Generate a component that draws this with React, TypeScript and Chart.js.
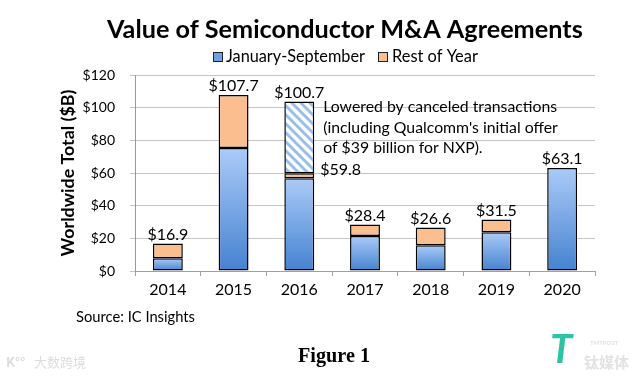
import React, { useEffect, useRef } from "react";
import { Chart, registerables } from "chart.js";
Chart.register(...registerables);

const years = ["2014", "2015", "2016", "2017", "2018", "2019", "2020"];
const janSep = [7.8, 75.3, 56.8, 21.4, 15.7, 23.8, 63.1];
const restOfYear = [9.1, 32.4, 3.0, 7.0, 10.9, 7.7, null];
const canceled = [null, null, 44.0, null, null, null, null];
const totalLabels = ["$16.9", "$107.7", "$100.7", "$28.4", "$26.6", "$31.5", "$63.1"];
const partialIndex = 2;
const partialLabel = "$59.8";
const yMin = 0;
const yMax = 120;
const yStep = 20;
const titleText = "Value of Semiconductor M&A Agreements";
const legendLabels = ["January-September", "Rest of Year"];
const yTitleText = "Worldwide Total ($B)";
const annotationLines = [
  "Lowered by canceled transactions",
  "(including Qualcomm's initial offer",
  "of $39 billion for NXP).",
];
const sourceText = "Source: IC Insights";
const figureText = "Figure 1";

const FONT = "Lato, 'Open Sans', sans-serif";
const ORANGE = "#fbbf8f";

function fitFont(ctx: CanvasRenderingContext2D, text: string, weight: string, family: string, width: number) {
  ctx.font = `${weight} 20px ${family}`;
  const w = ctx.measureText(text).width;
  const size = (20 * width) / w;
  ctx.font = `${weight} ${size}px ${family}`;
  return size;
}

function makeHatch(): CanvasPattern | string {
  const s = 9;
  const c = document.createElement("canvas");
  c.width = s;
  c.height = s;
  const g = c.getContext("2d");
  if (!g) return "#ffffff";
  g.fillStyle = "#ffffff";
  g.fillRect(0, 0, s, s);
  g.strokeStyle = "#98bfea";
  g.lineWidth = 3;
  for (let k = -1; k <= 1; k++) {
    g.beginPath();
    g.moveTo(-1, -1 + k * s);
    g.lineTo(s + 1, s + 1 + k * s);
    g.stroke();
  }
  const p = g.createPattern(c, "repeat");
  return p || "#ffffff";
}

const textPlugin = {
  id: "texts",
  afterDraw(chart: any) {
    const ctx: CanvasRenderingContext2D = chart.ctx;
    const y = chart.scales.y;
    ctx.save();
    ctx.fillStyle = "#000";

    // Title
    ctx.textAlign = "left";
    ctx.textBaseline = "alphabetic";
    fitFont(ctx, titleText, "bold", FONT, 476);
    ctx.fillText(titleText, 107, 38);

    // Legend
    ctx.textBaseline = "middle";
    const boxes = [
      { x: 213, tx: 226, w: 139, fill: "#6fa2e4" },
      { x: 378, tx: 392, w: 86, fill: ORANGE },
    ];
    boxes.forEach((b, i) => {
      ctx.fillStyle = b.fill;
      ctx.fillRect(b.x, 52, 10, 10);
      ctx.strokeStyle = "#222";
      ctx.lineWidth = 1;
      ctx.strokeRect(b.x + 0.5, 52.5, 9, 9);
      ctx.fillStyle = "#000";
      fitFont(ctx, legendLabels[i], "normal", FONT, b.w);
      ctx.fillText(legendLabels[i], b.tx, 57);
    });

    // Y title
    ctx.save();
    ctx.translate(68, 173);
    ctx.rotate(-Math.PI / 2);
    ctx.textAlign = "center";
    fitFont(ctx, yTitleText, "bold", FONT, 167);
    ctx.fillText(yTitleText, 0, 0);
    ctx.restore();

    // Data labels
    const meta0 = chart.getDatasetMeta(0);
    ctx.textAlign = "center";
    ctx.font = `normal 16px ${FONT}`;
    years.forEach((_, i) => {
      const top = (janSep[i] || 0) + (restOfYear[i] || 0) + (canceled[i] || 0);
      const el = meta0.data[i];
      ctx.fillText(totalLabels[i], el.x, y.getPixelForValue(top) - 9);
    });

    // Partial label for canceled year
    const pel = meta0.data[partialIndex];
    const partialTop = (janSep[partialIndex] || 0) + (restOfYear[partialIndex] || 0);
    ctx.textAlign = "left";
    ctx.fillText(partialLabel, pel.x + pel.width / 2 + 6, y.getPixelForValue(partialTop) - 3);

    // Annotation
    const size = fitFont(ctx, annotationLines[0], "normal", FONT, 234);
    ctx.font = `normal ${size}px ${FONT}`;
    const ax = pel.x + pel.width / 2 + 9;
    annotationLines.forEach((line, i) => {
      ctx.fillText(line, ax, 107 + i * 20.5);
    });

    // Source
    fitFont(ctx, sourceText, "normal", FONT, 119);
    ctx.fillText(sourceText, 76, 317);

    // Figure caption
    ctx.textAlign = "center";
    fitFont(ctx, figureText, "bold", "'Liberation Serif', 'DejaVu Serif', serif", 72);
    ctx.fillText(figureText, 334, 357);

    // Watermarks
    ctx.textAlign = "left";
    ctx.fillStyle = "#dcdcdc";
    ctx.font = `normal 13px 'Noto Sans CJK SC'`;
    ctx.fillText("大数跨境", 34, 362);
    ctx.font = `bold 13px 'Noto Sans CJK SC'`;
    ctx.fillText("K°°", 6, 362);
    ctx.fillStyle = "#e2e2e2";
    ctx.font = `bold 15px 'Noto Sans CJK SC'`;
    ctx.fillText("钛媒体", 584, 362);
    ctx.font = `bold 6px ${FONT}`;
    ctx.fillText("TMTPOST", 590, 343);
    ctx.fillStyle = "#2fc3a6";
    ctx.font = `italic bold 40px ${FONT}`;
    ctx.fillText("T", 550, 350);

    ctx.restore();
  },
};

export default function App() {
  const ref = useRef<HTMLCanvasElement>(null);
  useEffect(() => {
    document.body.style.margin = "0";
    const canvas = ref.current;
    if (!canvas) return;
    const hatch = makeHatch();
    const blueGradient = (c: any) => {
      const chart = c.chart;
      if (!chart.chartArea || c.raw == null) return "#6fa2e4";
      const ys = chart.scales.y;
      const top = ys.getPixelForValue(c.raw);
      const bottom = ys.getPixelForValue(0);
      const g = chart.ctx.createLinearGradient(0, top, 0, bottom);
      g.addColorStop(0, "#abcbf8");
      g.addColorStop(1, "#4582d0");
      return g;
    };
    const common = {
      borderColor: "#000",
      borderWidth: 1.5,
      borderSkipped: false,
      categoryPercentage: 1,
      barPercentage: 0.455,
      stack: "s",
    };
    const chart = new Chart(canvas, {
      type: "bar",
      data: {
        labels: years,
        datasets: [
          { label: legendLabels[0], data: janSep, backgroundColor: blueGradient, ...common },
          { label: legendLabels[1], data: restOfYear, backgroundColor: ORANGE, ...common },
          { label: "Canceled", data: canceled, backgroundColor: hatch as any, ...common },
        ],
      },
      options: {
        animation: false,
        responsive: false,
        maintainAspectRatio: false,
        layout: { padding: { left: 80, right: 46, top: 75, bottom: 77 } },
        plugins: { legend: { display: false }, title: { display: false }, tooltip: { enabled: false } },
        scales: {
          x: {
            stacked: true,
            afterFit: (s: any) => {
              s.height = 30;
            },
            grid: { display: true, drawOnChartArea: false, drawTicks: true, tickLength: 5, color: "#a0a0a0", offset: true },
            border: { display: true, color: "#a0a0a0", width: 1 },
            ticks: { color: "#000", font: { family: FONT, size: 16 }, padding: 4 },
          },
          y: {
            stacked: true,
            min: yMin,
            max: yMax,
            afterFit: (s: any) => {
              s.width = 55;
            },
            grid: { color: "#c4c4c4", tickLength: 5, drawTicks: true },
            border: { display: true, color: "#9a9a9a", width: 1 },
            ticks: {
              stepSize: yStep,
              color: "#000",
              font: { family: FONT, size: 14 },
              padding: 15,
              callback: (v: any) => "$" + v,
            },
          },
        },
      },
      plugins: [textPlugin],
    });
    return () => chart.destroy();
  }, []);
  return (
    <div style={{ width: 641, height: 378, background: "#fff" }}>
      <canvas ref={ref} width={641} height={378} style={{ display: "block" }} />
    </div>
  );
}
